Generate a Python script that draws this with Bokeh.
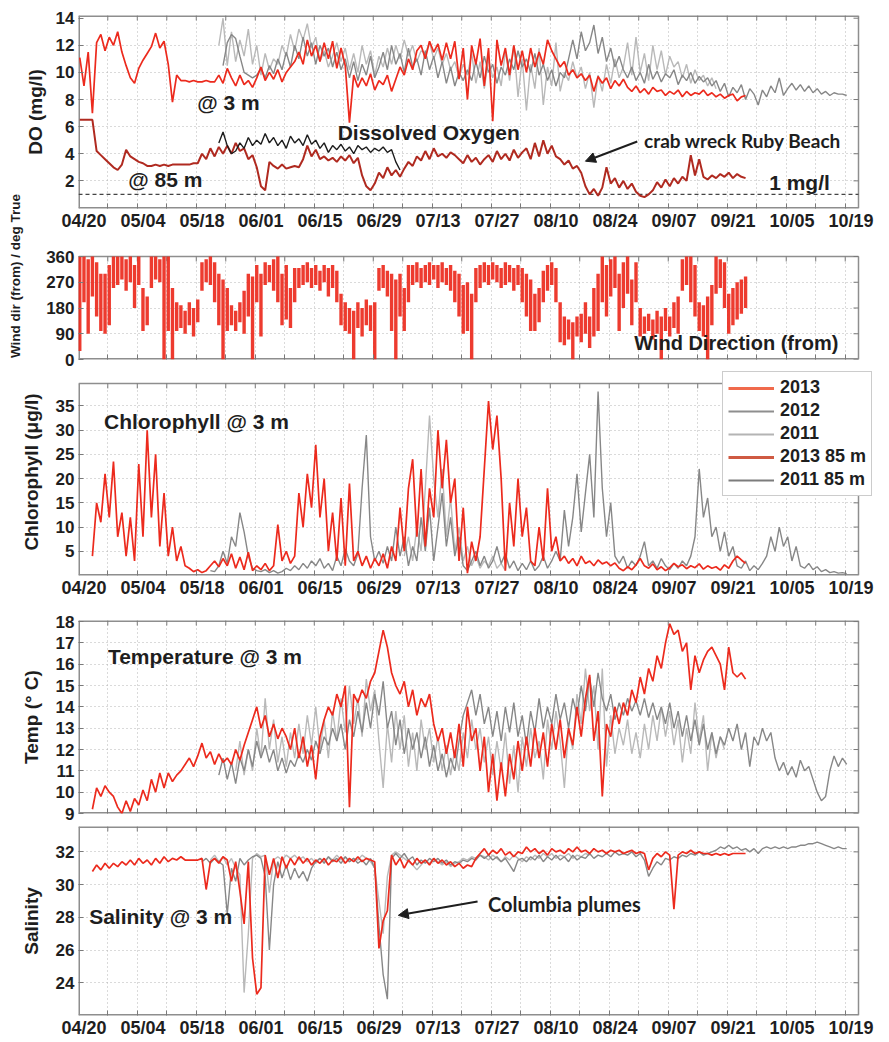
import math
from bokeh.plotting import figure
from bokeh.models import Range1d, FixedTicker, Label, Arrow, NormalHead, Legend, LegendItem
from bokeh.layouts import column
from bokeh.embed import file_html
from bokeh.resources import INLINE

# ---------------- data (day 0 = 04/20) ----------------
date_labels = ["04/20", "05/04", "05/18", "06/01", "06/15", "06/29", "07/13",
               "07/27", "08/10", "08/24", "09/07", "09/21", "10/05", "10/19"]
label_days = [0, 14, 28, 42, 56, 70, 84, 98, 112, 126, 140, 154, 168, 182]
do_threshold = 1.0   # "1 mg/l" reference line

# Dissolved oxygen @ 3 m (mg/l)
do3_2013_start = -1
do3_2013 = [11.1, 9.0, 11.5, 7.0, 12.2, 12.8, 11.6, 12.6, 12.0, 13.0, 11.5, 10.5, 9.6, 9.2,
            10.3, 10.9, 11.4, 11.9, 12.9, 11.8, 12.3, 10.6, 7.8, 9.8,
            9.4, 9.4, 9.3, 9.4, 9.3, 9.3, 9.4, 9.3, 9.3,
            9.8, 9.2, 10.3, 9.6, 9.0, 9.8, 9.1, 9.4, 8.9,
            9.6, 10.4, 9.4, 10.0, 9.5, 10.2, 9.3, 10.0, 10.4, 10.8,
            11.5, 10.6, 12.4, 11.2, 12.0, 10.8, 12.2, 11.0, 12.3, 10.3, 11.8, 10.5, 6.3,
            9.8, 8.9, 9.6, 9.0, 9.9, 8.7, 9.4, 9.1, 9.8, 8.6,
            9.5, 10.4, 9.8, 11.0, 10.2, 11.6, 12.0, 11.0, 12.3, 11.5, 12.1, 10.9, 12.2,
            11.0, 12.3, 9.5, 11.8, 8.0, 12.0, 10.6, 12.5, 9.0, 11.8, 6.4,
            12.4, 10.5, 11.8, 9.8, 12.0, 10.2, 11.6, 10.0, 11.8, 10.4, 11.5, 10.6, 12.4,
            11.6, 11.0, 10.4, 10.8, 9.8, 10.2,
            9.6, 9.9, 9.4, 9.8, 8.6, 9.7, 9.2, 9.6, 8.8, 9.4, 9.0, 9.5,
            8.9, 8.6, 9.0, 8.5, 8.8, 8.4, 8.9, 8.6, 8.7, 8.3, 8.6, 8.4, 8.7, 8.2, 8.6,
            8.3, 8.5, 8.4, 8.7, 8.3, 8.5, 8.2, 8.4, 8.1, 8.3, 8.4, 7.9, 8.2, 8.3]
do3_2012_start = 33
do3_2012 = [10.5, 12.2, 12.8, 12.5, 11.2, 10.0, 9.8, 9.6,
            9.8, 10.3, 9.6, 10.5, 9.9, 11.0, 10.2, 11.5, 10.4, 12.0, 11.0, 12.6, 11.2, 12.2, 10.6,
            12.0, 11.2, 11.8, 10.4, 11.5, 10.2, 11.0, 9.6, 10.8, 9.4, 10.6, 9.8, 11.2, 9.6, 10.4,
            11.5, 10.2, 12.0, 10.6, 11.4, 10.0, 11.8, 10.4, 11.0, 9.8, 11.6, 10.2, 11.2, 9.6,
            10.8, 9.2, 10.4, 9.0, 10.0, 9.4,
            10.2, 9.4, 10.8, 9.6, 11.2, 10.0, 10.6, 9.2, 10.4, 9.8, 11.0, 10.2, 11.6, 10.4,
            11.0, 10.0, 11.4, 9.8, 10.6, 9.4, 10.2, 9.0, 10.0, 9.6, 11.0,
            12.4, 11.0, 13.0, 11.6, 12.2, 13.5, 11.4, 12.6, 10.8, 11.8, 10.4, 11.2,
            10.2, 9.6, 10.4, 9.4, 10.0, 9.2, 10.6, 9.5, 10.1, 9.3, 9.9, 9.6, 10.2, 9.1, 9.8,
            9.4, 10.0, 9.2, 9.7, 9.3,
            9.6, 9.0, 9.4, 8.6, 9.2, 8.2, 8.9, 8.5, 9.1, 8.0, 8.8, 8.4, 7.6, 8.7, 8.2, 9.0,
            8.5, 9.6, 8.3, 8.8, 9.2, 8.7, 9.1, 8.6, 9.0, 8.5, 8.8, 8.4, 8.6, 8.3, 8.5, 8.4,
            8.4, 8.3]
do3_2011_start = 32
do3_2011 = [12.0, 14.0, 10.5,
            13.0, 10.8, 12.4, 11.2, 13.2, 10.6, 12.0, 9.8, 11.4, 10.2, 11.0,
            10.6, 12.0, 11.2, 12.8, 11.6, 13.2, 12.4, 13.6, 11.8, 12.6, 10.8, 11.6, 10.4, 11.2, 12.2,
            10.8, 11.8, 10.2, 11.4, 10.0, 12.0, 10.6, 11.6, 9.8, 11.2, 10.4, 11.8, 10.6, 12.0,
            11.0, 12.4, 11.2, 12.0, 10.8, 11.6,
            11.4, 12.2, 11.0, 11.8, 10.6, 11.4, 10.2, 10.8, 9.6, 10.6, 9.8, 11.4, 9.2, 10.8,
            8.8, 11.0, 9.6, 10.4, 9.0, 11.6,
            9.4, 12.0, 8.2, 11.0, 7.2, 10.6, 8.8, 11.8, 7.6, 10.4, 9.0, 12.2, 8.6, 10.0, 9.4, 10.8,
            9.6, 10.4, 8.8, 10.0, 7.4, 9.8, 8.6, 10.6, 9.2, 11.0, 9.6,
            10.4, 12.2, 9.8, 12.6, 10.0, 11.4, 9.4, 12.0, 10.2, 11.6, 9.8, 11.2, 10.4, 10.8,
            9.6, 10.6, 9.2, 10.2, 9.4, 9.8, 9.0, 9.6, 8.8]
# Dissolved oxygen @ 85 m
do85_2013_start = -1
do85_2013 = [6.5, 6.5, 6.5, 6.5, 4.2, 3.9, 3.6, 3.3, 3.0, 2.8, 3.2, 4.3,
             3.8, 3.6, 3.4, 3.3, 3.1,
             3.1, 3.2, 3.1, 3.2, 3.1, 3.2, 3.2, 3.2, 3.2, 3.2, 3.3, 3.3,
             4.0, 3.6, 4.4, 3.8, 4.5, 4.0,
             4.6, 4.0, 4.8, 4.2, 4.4, 3.6, 3.9,
             3.0, 1.6, 1.3, 3.4,
             3.1, 2.9, 3.2, 2.9, 3.0, 3.1, 3.0,
             3.6, 4.6, 3.8, 4.3, 3.6,
             3.8, 3.5, 3.7, 3.4, 3.8, 3.5, 3.9, 3.3, 3.7,
             2.4, 1.6, 1.3, 1.8,
             2.6, 2.2, 3.0, 2.4, 2.8, 2.3,
             2.9, 3.4, 3.1, 3.8, 3.5,
             4.2, 3.6, 4.4, 3.8, 4.0, 3.7, 4.1, 3.9,
             3.6, 3.3, 3.9, 3.4, 3.7, 3.2, 3.6,
             3.9, 3.4, 4.2, 3.6, 4.0, 3.5, 4.3, 3.7, 4.1,
             4.4, 3.6, 4.8, 3.8, 5.0, 4.0, 4.6, 3.8,
             3.6, 3.2, 3.5, 2.9, 3.1,
             2.6, 1.6, 1.0, 1.4,
             0.9, 1.5, 3.0,
             1.8, 2.2, 1.5, 2.0, 1.4, 1.8,
             1.2, 0.9, 0.8, 1.0,
             1.3, 1.9, 1.5, 2.1, 1.6, 2.2, 1.8, 2.3,
             2.0, 3.9, 2.4, 3.6,
             2.3, 2.1, 2.4, 2.2, 2.5, 2.3, 2.6, 2.2, 2.5, 2.3, 2.2]
do85_2011_start = 32
do85_2011 = [4.8, 5.6, 4.6, 4.0, 4.2, 4.8, 4.4, 5.2, 4.6,
             5.0, 4.7, 5.5, 4.8, 5.2, 4.6, 5.0, 4.4, 5.3, 4.8, 5.1, 4.6, 5.4, 4.7, 5.0,
             4.4, 4.8, 4.1, 4.6, 4.3, 4.7, 4.2, 4.5, 4.0, 4.6, 4.3, 4.5, 4.1, 4.4, 4.2,
             4.5, 4.1, 4.3, 3.4, 2.8]

# Wind direction (from), deg True: daily low / high of the plotted points
wind_start = -1
wind_lo = [30, 200, 90, 220, 150, 100, 90, 120,
           250, 260, 280, 240, 270, 180, 260, 100, 120, 250, 280, 270, 0, 100, 0,
           100, 110, 90, 120, 80, 130, 240, 270, 260, 200, 120, 0, 100, 120, 100, 130,
           90, 150, 0, 200, 80, 260, 270, 240, 200, 120, 140, 110, 200,
           250, 260, 270, 250, 260, 240, 270, 220, 250, 200,
           120, 100, 90, 0, 110, 80, 120, 100, 0, 240, 250, 220, 100, 0, 150, 100, 200,
           260, 270, 250, 270, 260, 280, 250, 270, 260, 240, 200, 150, 90, 100, 0,
           200, 250, 270, 260, 280, 270, 250, 260, 270, 240, 260, 200, 150, 100,
           100, 130, 200, 240, 260, 200, 60, 50, 70, 0, 80, 60, 90, 40, 80, 100,
           200, 150, 220, 250, 100, 180, 230, 120, 200,
           80, 90, 100, 70, 90, 0, 100, 80, 110, 90, 240, 260, 200, 150,
           100, 80, 0, 120, 230, 250, 180, 90, 120, 140, 160, 180]
wind_hi = [360, 360, 350, 360, 340, 300, 300, 330,
           360, 360, 360, 350, 360, 330, 360, 250, 220, 360, 360, 350, 360, 360, 250,
           200, 190, 170, 200, 180, 210, 340, 350, 360, 340, 300, 280, 250, 190, 170, 200,
           240, 300, 290, 330, 300, 340, 330, 350, 360, 300, 330, 250, 320,
           320, 330, 340, 320, 330, 310, 330, 320, 330, 310,
           230, 200, 180, 170, 200, 180, 210, 190, 200, 320, 330, 310, 300, 280, 300, 250, 330,
           330, 340, 320, 330, 340, 330, 330, 340, 320, 330, 310, 300, 260, 270, 230,
           320, 330, 340, 330, 340, 330, 320, 340, 330, 320, 330, 320, 300, 280,
           230, 250, 310, 330, 340, 320, 200, 150, 140, 130, 150, 160, 200, 150, 250, 300,
           360, 330, 350, 360, 300, 340, 360, 280, 340,
           180, 150, 160, 140, 170, 150, 180, 150, 200, 220, 350, 360, 360, 330,
           200, 190, 220, 260, 360, 350, 340, 230, 250, 270, 280, 290]

# Chlorophyll @ 3 m (ug/l)
chl_2013_start = 2
chl_2013 = [4, 15, 11, 21, 12, 23.5, 8, 13, 4, 12, 3, 23, 8, 30, 12, 25, 6, 17, 4, 10, 3, 6, 2,
            1.5, 0.8, 1.2, 0.6, 1.0, 2.0, 3.0, 1.8, 3.5, 2.0, 4.5, 1.5, 3.8, 1.2, 4.8, 1.0,
            2.0, 1.2, 2.5, 1.0, 2.0, 10.5, 3.0, 5.0, 2.5, 4.0,
            17, 10, 21, 14, 27, 12, 20, 5, 13, 3, 16, 2, 19, 3, 5, 2, 4, 1.5, 3.5, 2, 4.5,
            1.5, 6, 3, 14, 5, 18, 24, 8, 22, 6, 18, 12, 30, 18, 28, 15, 20, 3, 14, 0.5, 7,
            3, 8, 22, 36, 26, 33, 20, 1, 15, 6, 20, 8, 14, 3, 2, 10, 3, 18, 5, 8, 3, 4, 2.5,
            3.5, 2, 4, 2.5, 3, 2, 3.2, 2.4, 2.8, 2, 2.6, 1.5, 1.0, 1.8, 1.2, 2.2, 3.5, 2.0,
            1.5, 2.4, 1.2, 1.8, 1.0, 1.6, 2.5, 1.8, 2.2, 1.4, 2.0, 1.6, 2.4, 1.3, 2.0, 1.5,
            1.8, 1.1, 2.2, 1.5, 3.0, 4.0, 3.2, 2.5]
chl_2012_start = 30
chl_2012 = [1.0, 0.8, 2.0, 5.0, 2.5, 8.0, 6.0, 13, 9, 4, 1.5, 1.0, 0.8, 1.2, 0.6, 1.0, 0.5,
            0.8, 1.5, 1.0, 2.0, 1.2, 2.5, 1.5, 3.0, 2.0, 3.5, 1.5, 2.5, 1.0, 4.0, 2.0, 5.5,
            3.0, 2.0, 4.5, 18, 29, 8, 3, 5, 2.5, 6, 3, 10, 4, 8, 2, 6, 3, 12, 5, 14, 3, 10,
            17, 6, 12, 4, 8, 2, 1, 3, 5, 2, 4, 1.5, 3, 6, 2.5, 4.5, 1.5, 3, 1, 2.5, 1.2, 3,
            1, 2, 4, 1.5, 3, 5, 3, 13.5, 6, 12, 21, 9, 17, 25, 12, 38, 18, 8, 15, 4, 2.5, 4,
            1.5, 3, 2, 4, 7, 2, 3, 1.5, 3.5, 2, 1.2, 2.5, 1.5, 3, 2, 4, 8, 22, 12, 16, 8, 10,
            5, 9, 4, 6, 2, 1.5, 3, 1, 2, 1.2, 2.5, 4, 8, 5, 10, 6, 8, 3, 6, 2, 1.5, 2.5, 1.2,
            1.8, 0.8, 1.2, 0.6, 0.8, 0.5, 0.6, 0.4]
chl_2011_start = 76
chl_2011 = [4, 8, 3, 10, 5, 18, 33, 20, 12, 22, 8, 16, 5, 10, 3, 6, 2, 4, 1.5, 3, 2, 4, 1.5,
            2.5, 1]

# Temperature @ 3 m (deg C)
temp_2013_start = 2
temp_2013 = [9.2, 10.2, 9.8, 10.3, 10.0, 9.8, 9.3, 9.0, 9.6, 9.1, 9.7, 9.4, 10.1, 9.6, 10.6,
             10.0, 10.9, 10.2, 10.9, 10.5, 10.8, 11.0, 11.3, 11.6, 11.2, 11.7, 12.3, 11.6,
             11.9, 11.3, 11.8, 11.4, 11.6, 11.3, 12.0, 11.5, 12.2, 12.8, 13.4, 14.0, 13.0,
             13.6, 12.6, 13.2, 12.5, 13.0, 12.6, 12.0, 13.0, 11.6, 12.6, 11.2, 12.2, 10.6,
             12.6, 13.4, 14.0, 13.6, 14.6, 14.0, 15.0, 9.3, 14.6, 14.2, 14.8, 14.4, 15.2,
             15.6, 16.6, 17.6, 16.8, 15.6, 15.0, 14.6, 15.2, 14.0, 14.8, 13.6, 14.4, 14.0,
             14.6, 13.2, 12.4, 13.0, 11.8, 12.8, 11.6, 13.2, 11.2, 14.0, 12.4, 13.0, 11.0,
             12.6, 10.0, 11.8, 9.6, 11.4, 9.8, 11.8, 10.6, 12.4, 11.0, 12.6, 11.2, 13.0, 11.6,
             12.8, 11.2, 13.2, 12.0, 13.4, 11.6, 13.0, 12.2, 14.0, 12.6, 14.4, 15.5, 12.4,
             13.8, 9.8, 13.2, 12.6, 14.0, 13.2, 14.2, 13.6, 14.8, 14.2, 15.4, 14.6, 15.8,
             15.2, 16.4, 15.8, 17.0, 17.9, 17.4, 17.6, 16.6, 17.0, 14.8, 16.4, 15.6, 16.2,
             16.6, 16.8, 16.4, 16.0, 14.8, 16.8, 15.6, 15.4, 15.6, 15.3]
temp_2012_start = 32
temp_2012 = [10.8, 11.6, 10.6, 11.4, 10.4, 11.6, 11.0, 12.0, 11.2, 12.4, 11.6, 12.2, 11.4,
             12.0, 11.0, 11.6, 10.9, 11.5, 11.2, 11.8, 11.4, 12.0, 11.5, 12.4, 11.8, 12.6,
             12.2, 13.0, 12.4, 13.2, 12.0, 13.4, 12.6, 13.8, 12.8, 14.2, 13.0, 14.6, 13.6,
             15.2, 13.0, 13.8, 12.2, 13.4, 11.8, 13.0, 12.0, 12.8, 11.6, 12.6, 11.2, 12.2,
             11.0, 11.8, 10.7, 11.6, 11.0, 12.4, 13.6, 14.2, 14.8, 13.6, 14.6, 13.2, 14.0,
             12.6, 13.8, 12.4, 14.0, 12.8, 14.2, 12.6, 13.6, 12.2, 13.8, 12.8, 14.4, 13.0,
             14.0, 13.2, 14.6, 13.4, 14.2, 13.0, 14.4, 13.6, 15.0, 13.8, 15.4, 14.0, 15.6,
             14.4, 13.8, 14.6, 13.4, 14.2, 13.6, 14.4, 13.8, 14.3, 13.6, 14.4, 13.5, 14.2,
             13.4, 14.0, 13.2, 14.2, 13.0, 13.8, 12.6, 13.6, 12.4, 13.4, 12.2, 13.2, 12.0,
             12.8, 11.8, 12.6, 12.2, 13.0, 12.4, 13.2, 12.0, 12.8, 11.2, 12.6, 12.2, 13.0,
             12.4, 12.8, 11.6, 11.0, 11.4, 10.8, 11.2, 10.7, 11.5, 11.0, 11.2, 10.6, 10.0,
             9.6, 9.8, 11.0, 11.7, 11.2, 11.6, 11.3]
temp_2011_start = 36
temp_2011 = [11.0, 12.4, 10.8, 12.0, 11.0, 13.0, 11.6, 14.4, 12.0, 13.4, 11.4, 12.6, 11.2,
             12.8, 11.6, 13.2, 11.8, 13.6, 12.2, 14.0, 12.0, 13.4, 11.6, 13.8, 12.4, 14.4,
             12.8, 15.0, 13.2, 14.4, 12.6, 15.3, 13.8, 14.8, 12.4, 10.2, 13.2, 11.4, 13.8,
             12.0, 13.6, 11.2, 12.8, 11.0, 13.4, 12.0, 13.0, 11.4, 12.6, 11.0, 12.2, 10.8,
             12.0, 11.0, 12.8, 11.6, 13.4, 12.0, 13.0, 11.4, 12.6, 10.8, 12.4, 11.0, 12.8,
             10.4, 12.2, 10.0, 12.6, 11.2, 13.0, 11.6, 12.4, 10.6, 13.4, 12.0, 13.8, 12.4,
             10.2, 13.0, 12.0, 14.6, 13.2, 15.8, 13.8, 15.0, 12.0, 15.8, 11.2, 13.6, 11.8,
             13.0, 12.2, 13.4, 11.8, 12.8, 11.6, 13.2, 12.0, 13.6, 12.4, 14.0, 12.6, 13.8,
             12.2, 13.4, 11.4, 13.0, 11.8, 14.2, 12.4, 13.6, 11.0, 12.8, 11.6, 12.6, 12.0]

# Salinity @ 3 m
sal_2013_start = 2
sal_2013 = [30.8, 31.2, 30.9, 31.3, 31.0, 31.3, 31.1, 31.4, 31.2, 31.5, 31.2, 31.6, 31.3,
            31.5, 31.2, 31.6, 31.3, 31.7, 31.4, 31.6, 31.5, 31.7, 31.5, 31.5, 31.5, 31.5,
            31.6, 29.7, 31.4, 31.6, 31.3, 31.7, 31.5, 30.2, 31.4, 29.6, 27.6, 31.4, 25.5,
            23.3, 23.7, 31.8, 30.6, 31.6, 30.4, 31.7, 31.0, 31.6, 31.2, 31.7, 31.3, 31.6,
            31.2, 31.5, 31.3, 31.6, 31.2, 31.5, 31.4, 31.7, 31.3, 31.6, 31.4, 31.7, 31.4,
            31.6, 31.5, 31.4, 26.1, 27.8, 28.4, 31.8, 31.2, 31.6, 31.0, 31.5, 31.2, 31.6,
            31.3, 31.5, 31.2, 31.6, 31.3, 31.5, 31.2, 31.4, 31.1, 31.3, 31.0, 31.2, 31.1,
            31.6, 31.9, 32.2, 31.8, 32.1, 31.9, 32.2, 31.8, 32.0, 31.7, 32.0, 31.9, 32.3,
            32.0, 32.2, 31.9, 32.1, 31.8, 32.2, 32.0, 32.1, 31.9, 32.2, 32.0, 32.3, 32.0,
            32.1, 31.9, 32.2, 32.0, 32.1, 31.9, 32.1, 32.0, 32.1, 31.9, 32.0, 32.1, 31.9,
            32.0, 31.9, 30.9, 31.6, 31.9, 31.7, 32.0, 31.8, 28.5, 31.8, 32.0, 31.9, 32.1,
            31.9, 32.0, 31.9, 31.9, 31.8, 31.9, 31.8, 31.9, 31.8, 31.9, 31.9, 31.9, 31.9]
sal_2012_start = 28
sal_2012 = [31.4, 31.6, 31.3, 31.6, 31.4, 31.2, 28.2, 31.0, 30.2, 31.6, 31.2, 31.5, 31.7,
            31.8, 31.6, 30.5, 26.0, 30.0, 31.4, 30.4, 31.2, 30.3, 31.0, 30.4, 30.8, 30.2,
            31.0, 31.4, 31.6, 31.3, 31.7, 31.4, 31.6, 31.3, 31.7, 31.4, 31.6, 31.3, 31.5,
            31.2, 31.6, 31.0, 27.5, 24.5, 23.0, 31.6, 31.9, 31.6, 31.9, 31.5, 31.7, 31.2,
            31.5, 31.3, 31.6, 31.4, 31.6, 31.3, 31.5, 31.2, 31.4, 31.3, 31.5, 31.4, 31.6,
            31.5, 31.8, 31.6, 31.8, 31.5, 31.7, 31.4, 31.6, 31.2, 30.8, 31.5, 31.6, 31.4,
            31.7, 31.5, 31.8, 31.4, 31.7, 31.5, 31.8, 31.5, 31.7, 31.4, 31.8, 31.5, 31.7,
            31.6, 31.9, 31.6, 31.8, 31.7, 31.9, 31.7, 32.0, 31.8, 31.9, 31.8, 32.0, 31.7,
            31.9, 31.5, 30.5, 31.0, 31.4, 31.2, 31.6, 31.5, 31.7, 31.6, 31.8, 31.7, 31.9,
            31.8, 32.0, 31.8, 31.9, 32.0, 32.1, 32.3, 32.2, 32.4, 32.2, 32.3, 32.1, 32.2,
            32.0, 32.2, 31.9, 32.2, 32.3, 32.2, 32.3, 32.2, 32.3, 32.2, 32.3, 32.3, 32.4,
            32.4, 32.5, 32.5, 32.6, 32.5, 32.4, 32.3, 32.2, 32.3, 32.2, 32.2]
sal_2011_start = 30
sal_2011 = [31.5, 31.8, 31.4, 31.7, 31.2, 31.6, 31.0, 30.6, 23.4, 27.0, 31.6, 31.9, 31.7,
            31.8, 29.5, 31.5, 31.7, 31.5, 31.8, 31.6, 31.8, 31.5, 31.7, 31.4, 31.6, 31.3,
            31.6, 31.4, 31.7, 31.5, 31.8, 31.5, 31.7, 31.4, 31.6, 31.5, 31.8, 31.6, 31.4,
            31.0, 29.0, 27.0, 30.5, 31.8, 32.0, 31.8, 31.6, 31.4, 31.2, 30.9, 31.2, 31.5,
            31.3, 31.6, 31.4, 31.2, 31.4, 31.1, 31.3, 31.4, 31.6, 31.5, 31.7, 31.6, 31.8,
            31.7, 31.5, 31.8, 31.6, 31.4, 31.7, 31.5, 31.8, 31.6, 31.4, 31.7, 31.5, 31.8,
            31.6, 31.9, 31.7, 31.9, 31.6, 31.8, 31.7, 31.9, 31.6, 31.8, 31.7, 31.9, 31.8]


def days_from(start, vals):
    return [start + i for i in range(len(vals))]


# ---------------- style ----------------
FONT = "Liberation Sans"
HUM = "Lato"
RED = "#ec2a1d"
DKRED = "#b02a20"
G12 = "#878787"
G11 = "#b9b9b9"
BLK = "#1c1c1c"
TXT = "#1e1e1e"
FRAME = "#8e8e8e"
TICKC = "#7a7a7a"
W = 889
SX = 780 / 185.1              # px per day
XB = (-1.3, 183.8)            # x extent of every panel box
XR = (XB[0], XB[0] + 811 / SX)  # frames run to the right canvas edge (legend overhang)
tick_days = [5.65 + 7 * k for k in range(26)]


def make_fig(height, top, bottom, yr, yb, sy, yticks, ygrid, xlabels,
             ylabel=None, ystand=8, yfont="19px", **kw):
    p = figure(width=W, height=height, x_range=Range1d(*XR), y_range=Range1d(*yr),
               output_backend="svg", toolbar_location=None,
               min_border_left=78, min_border_right=0,
               min_border_top=top, min_border_bottom=bottom, **kw)
    p.outline_line_color = None
    xa = p.xaxis[0]
    xa.ticker = FixedTicker(ticks=label_days if xlabels else [], minor_ticks=tick_days)
    if xlabels:
        xa.major_label_overrides = {d: s for d, s in zip(label_days, date_labels)}
    xa.major_tick_in = 0
    xa.major_tick_out = 0
    xa.minor_tick_in = 5
    xa.minor_tick_out = 0
    xa.minor_tick_line_color = TICKC
    xa.axis_line_color = None
    xa.major_label_text_font = FONT
    xa.major_label_text_font_style = "bold"
    xa.major_label_text_font_size = "18px"
    xa.major_label_text_color = TXT
    xa.major_label_standoff = 2

    ya = p.yaxis[0]
    ya.ticker = FixedTicker(ticks=yticks)
    ya.major_tick_in = 5
    ya.major_tick_out = 0
    ya.major_tick_line_color = TICKC
    ya.minor_tick_line_color = None
    ya.axis_line_color = None
    ya.major_label_text_font = FONT
    ya.major_label_text_font_style = "bold"
    ya.major_label_text_font_size = "17px"
    ya.major_label_text_color = TXT
    ya.major_label_standoff = 4
    if ylabel:
        ya.axis_label = ylabel
        ya.axis_label_text_font = FONT
        ya.axis_label_text_font_style = "bold"
        ya.axis_label_text_font_size = yfont
        ya.axis_label_text_color = TXT
        ya.axis_label_standoff = ystand

    p.xgrid.ticker = FixedTicker(ticks=tick_days)
    p.ygrid.ticker = FixedTicker(ticks=ygrid)
    p.xgrid.cross_bounds = yb
    p.ygrid.cross_bounds = XB
    p.grid.grid_line_color = "#b4b4b4"
    p.grid.grid_line_dash = "1 3"
    p.grid.grid_line_width = 1

    # panel box: an edge lying on the frame edge is half clipped, so draw it wider
    x0, x1 = XB
    y0, y1 = yb
    lw = [3, 1.5, 3 if yr[0] == y0 else 1.5, 3 if yr[1] == y1 else 1.5]
    p.segment(x0=[x0, x1, x0, x0], y0=[y0, y0, y0, y1], x1=[x0, x1, x1, x1],
              y1=[y1, y1, y0, y1], line_color=FRAME, line_width=lw)
    # inward ticks on the top and right edges
    tl_y = 5 / sy
    tl_x = 5 / SX
    p.segment(x0=tick_days, x1=tick_days, y0=[y1] * len(tick_days),
              y1=[y1 - tl_y] * len(tick_days), line_color=TICKC, line_width=1)
    p.segment(x0=[x1] * len(yticks), x1=[x1 - tl_x] * len(yticks), y0=yticks, y1=yticks,
              line_color=TICKC, line_width=1)
    return p


def label(p, x, y, text, size="21px", font=FONT, **kw):
    p.add_layout(Label(x=x, y=y, text=text, text_font=font, text_font_style="bold",
                       text_font_size=size, text_color=TXT, text_align="center",
                       text_baseline="middle", **kw))


# ---------------- panel 1: dissolved oxygen ----------------
sy1 = 195 / 14.24
p1 = make_fig(233, 15, 23, (-0.04, 14.2), (-0.04, 14.2), sy1,
              [2, 4, 6, 8, 10, 12, 14], [2, 4, 6, 8, 10, 12], True,
              ylabel="DO (mg/l)", ystand=7)
p1.line([XB[0], XB[1]], [do_threshold, do_threshold], line_color="#444444",
        line_dash="4 3", line_width=1.2)
p1.line(days_from(do3_2011_start, do3_2011), do3_2011, line_color=G11, line_width=1.4)
p1.line(days_from(do3_2012_start, do3_2012), do3_2012, line_color=G12, line_width=1.4)
p1.line(days_from(do3_2013_start, do3_2013), do3_2013, line_color=RED, line_width=1.7)
p1.line(days_from(do85_2013_start, do85_2013), do85_2013, line_color=DKRED, line_width=2.0)
p1.line(days_from(do85_2011_start, do85_2011), do85_2011, line_color=BLK, line_width=1.4)
label(p1, 34.3, 7.8, "@ 3 m")
label(p1, 19.3, 2.07, "@ 85 m")
label(p1, 81.8, 5.6, "Dissolved Oxygen")
label(p1, 156.3, 5.0, "crab wreck Ruby Beach", size="19px", font=HUM)
label(p1, 169.8, 1.85, "1 mg/l")
p1.add_layout(Arrow(end=NormalHead(size=10, fill_color=TXT, line_color=TXT),
                    x_start=131.3, y_start=4.9, x_end=119.0, y_end=3.45,
                    line_width=2, line_color=TXT))

# ---------------- panel 2: wind direction ----------------
# frame reaches up to the canvas top so that the long axis title fits
sy2 = 103 / 360
p2 = make_fig(176, 0, 9, (0, 167 / sy2), (0, 360), sy2,
              [0, 90, 180, 270, 360], [90, 180, 270], False,
              ylabel="Wind dir (from) / deg True", ystand=20, yfont="13.5px",
              margin=(-41, 0, 0, 0))
p2.background_fill_color = None
p2.border_fill_color = None
wd = days_from(wind_start, wind_lo)
p2.segment(x0=wd, y0=wind_lo, x1=wd, y1=wind_hi, line_color=RED, line_width=3.4,
           line_alpha=0.92)
label(p2, 154.8, 59, "Wind Direction (from)", size="20px")

# ---------------- panel 3: chlorophyll ----------------
sy3 = 193 / 39.65
p3 = make_fig(232, 0, 24, (0, 39.65 + 15 / sy3), (0, 39.65), sy3,
              [5, 10, 15, 20, 25, 30, 35], [5, 10, 15, 20, 25, 30, 35], True,
              ylabel="Chlorophyll (\u03bcg/l)", ystand=11)
p3.line(days_from(chl_2011_start, chl_2011), chl_2011, line_color=G11, line_width=1.4)
p3.line(days_from(chl_2012_start, chl_2012), chl_2012, line_color=G12, line_width=1.4)
p3.line(days_from(chl_2013_start, chl_2013), chl_2013, line_color=RED, line_width=1.7)
label(p3, 26.7, 31.7, "Chlorophyll @ 3 m")
nan = float("nan")
lg = [p3.line([nan], [nan], line_color="#f06a4c", line_width=3),
      p3.line([nan], [nan], line_color="#8e8e8e", line_width=2),
      p3.line([nan], [nan], line_color="#b4b4b4", line_width=2),
      p3.line([nan], [nan], line_color="#cf5a42", line_width=3),
      p3.line([nan], [nan], line_color="#7c7c7c", line_width=2)]
legend = Legend(items=[LegendItem(label=t, renderers=[r]) for t, r in
                       zip(["2013", "2012", "2011", "2013 85 m", "2011 85 m"], lg)],
                location=(644, 79), border_line_color="#9a9a9a", border_line_width=1.5,
                background_fill_color="white", background_fill_alpha=1.0,
                label_text_font=FONT, label_text_font_style="bold",
                label_text_font_size="18px", label_text_color=TXT,
                glyph_width=46, glyph_height=18, label_height=18, spacing=2,
                padding=5, margin=0, label_standoff=6)
p3.add_layout(legend)

# ---------------- panel 4: temperature ----------------
sy4 = 193 / 9.05
p4 = make_fig(223, 20, 10, (9, 18.05), (9, 18.05), sy4,
              [9, 10, 11, 12, 13, 14, 15, 16, 17, 18], [10, 11, 12, 13, 14, 15, 16, 17],
              False, ylabel="Temp (\u00b0 C)", ystand=11)
p4.line(days_from(temp_2011_start, temp_2011), temp_2011, line_color=G11, line_width=1.4)
p4.line(days_from(temp_2012_start, temp_2012), temp_2012, line_color=G12, line_width=1.4)
p4.line(days_from(temp_2013_start, temp_2013), temp_2013, line_color=RED, line_width=1.7)
label(p4, 28.7, 16.37, "Temperature @ 3 m")

# ---------------- panel 5: salinity ----------------
sy5 = 192 / 11.55
p5 = make_fig(217, 3, 22, (22, 33.55), (22, 33.55), sy5,
              [24, 26, 28, 30, 32], [24, 26, 28, 30, 32], True,
              ylabel="Salinity", ystand=11)
p5.line(days_from(sal_2011_start, sal_2011), sal_2011, line_color=G11, line_width=1.4)
p5.line(days_from(sal_2012_start, sal_2012), sal_2012, line_color=G12, line_width=1.4)
p5.line(days_from(sal_2013_start, sal_2013), sal_2013, line_color=RED, line_width=1.7)
label(p5, 18.2, 28.06, "Salinity @ 3 m")
label(p5, 114.0, 28.84, "Columbia plumes", size="20px", font=HUM)
p5.add_layout(Arrow(end=NormalHead(size=10, fill_color=TXT, line_color=TXT),
                    x_start=93.4, y_start=28.96, x_end=74.6, y_end=28.12,
                    line_width=2, line_color=TXT))

layout = column(p1, p2, p3, p4, p5, spacing=0)
open("out.html", "w").write(file_html(layout, INLINE))
